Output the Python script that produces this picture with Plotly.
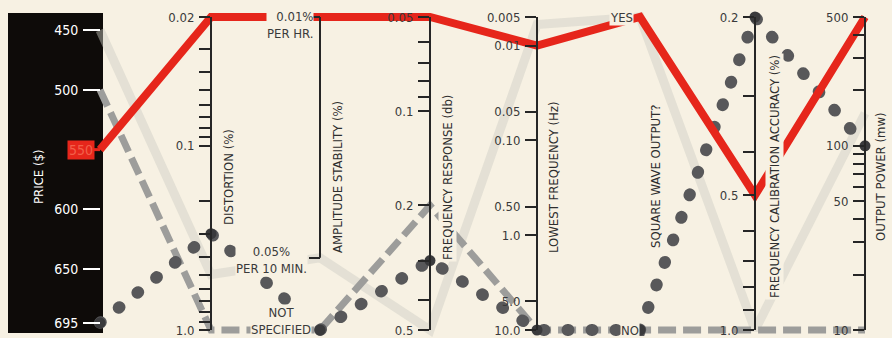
import math

import plotly.graph_objects as go

# ─── Data ─────────────────────────────────────────────────────────────────────

DIMENSIONS = [
    "PRICE ($)",
    "DISTORTION (%)",
    "AMPLITUDE STABILITY (%)",
    "FREQUENCY RESPONSE (db)",
    "LOWEST FREQUENCY (Hz)",
    "SQUARE WAVE OUTPUT?",
    "FREQUENCY CALIBRATION ACCURACY (%)",
    "OUTPUT POWER (mw)",
]

AMP_LEVELS = ["0.01% PER HR.", "0.05% PER 10 MIN.", "NOT SPECIFIED"]
SQUARE_LEVELS = ["NO", "YES"]

PRICE_TICKS = [450, 500, 550, 600, 650, 695]
DISTORTION_TICKS = [0.02, 0.1, 1.0]
DISTORTION_LABELS = ["0.02", "0.1", "1.0"]
DISTORTION_MINOR = [0.03, 0.04, 0.05, 0.06, 0.07, 0.08, 0.09,
                    0.2, 0.3, 0.4, 0.5, 0.6, 0.7, 0.8, 0.9]
FREQ_RESP_TICKS = [0.05, 0.1, 0.2, 0.5]
FREQ_RESP_LABELS = ["0.05", "0.1", "0.2", "0.5"]
FREQ_RESP_MINOR = [0.06, 0.07, 0.08, 0.09, 0.3, 0.4]
LOW_FREQ_TICKS = [0.005, 0.01, 0.05, 0.10, 0.50, 1.0, 5.0, 10.0]
LOW_FREQ_LABELS = ["0.005", "0.01", "0.05", "0.10", "0.50", "1.0", "5.0", "10.0"]
CAL_TICKS = [0.2, 0.5, 1.0]
CAL_LABELS = ["0.2", "0.5", "1.0"]
CAL_MINOR = [0.3, 0.4, 0.6, 0.7, 0.8, 0.9]
POWER_TICKS = [500, 100, 50, 10]
POWER_LABELS = ["500", "100", "50", "10"]
POWER_MINOR = [400, 300, 200, 90, 80, 70, 60, 40, 30, 20]

# one list per generator, in DIMENSIONS order
GEN_FAINT = [450, 0.5, "0.05% PER 10 MIN.", 0.5, 0.006, "YES", 1.0, 150]
GEN_DASHED = [500, 1.0, "NOT SPECIFIED", 0.2, 10.0, "NO", 1.0, 10]
GEN_DOTTED = [695, 0.3, "NOT SPECIFIED", 0.3, 10.0, "NO", 0.2, 100]
GEN_RED = [550, 0.02, "0.01% PER HR.", 0.05, 0.01, "YES", 0.5, 500]
GENERATORS = [GEN_FAINT, GEN_DASHED, GEN_DOTTED, GEN_RED]

# ─── Layout constants ─────────────────────────────────────────────────────────

W, H = 892, 338
BG = "#f7f1e3"
INK = "#262626"
TEXT = "#3a3a3a"
RED = "#e6261b"
FONT = "Liberation Sans Narrow, DejaVu Sans Condensed, Arial Narrow, sans-serif"

AXIS_X = [100, 211, 320, 430, 537, 640, 755, 865]      # pixel x of each axis
TITLE_X = [38, 228, 337, 447, 553, 655, 774, 880]
Y_DOMAIN = [1 - 330 / H, 1 - 17 / H]
SPAN = Y_DOMAIN[1] - Y_DOMAIN[0]
AMP_POS = {"0.01% PER HR.": 0, "0.05% PER 10 MIN.": 1, "NOT SPECIFIED": 1.3}
SQUARE_POS = {"NO": 0, "YES": 1}

# (kind, value at bottom, value at top)
SCALES = [
    ("linear", 701, 439),
    ("log", 1.0, 0.02),
    ("amp", 1.3, 0),
    ("log", 0.5, 0.05),
    ("log", 10.0, 0.005),
    ("square", 0, 1),
    ("log", 1.0, 0.2),
    ("log", 10, 500),
]


def numeric(i, v):
    kind = SCALES[i][0]
    if kind == "amp":
        return AMP_POS[v]
    if kind == "square":
        return SQUARE_POS[v]
    return v


def frac(i, v):
    """Position of value v on axis i, 0 = bottom, 1 = top."""
    kind, lo, hi = SCALES[i]
    v = numeric(i, v)
    if kind == "log":
        return (math.log10(v) - math.log10(lo)) / (math.log10(hi) - math.log10(lo))
    return (v - lo) / (hi - lo)


def axis_range(i):
    kind, lo, hi = SCALES[i]
    if kind == "log":
        return [math.log10(lo), math.log10(hi)]
    return [lo, hi]


def trace(values, **style):
    return go.Scatter(
        x=AXIS_X,
        y=[frac(i, v) for i, v in enumerate(values)],
        hoverinfo="skip",
        showlegend=False,
        **style,
    )


fig = go.Figure()

# each generator's value on every axis's own scale (keeps the axes alive)
for i in range(len(DIMENSIONS)):
    fig.add_trace(go.Scatter(
        x=[AXIS_X[i]] * len(GENERATORS),
        y=[numeric(i, g[i]) for g in GENERATORS],
        yaxis=f"y{i + 2}", mode="markers",
        marker=dict(opacity=0), hoverinfo="skip", showlegend=False,
    ))

fig.add_trace(trace(GEN_FAINT, mode="lines",
                    line=dict(color="rgba(205,205,196,0.45)", width=9)))
fig.add_trace(trace(GEN_DASHED, mode="lines",
                    line=dict(color="#9d9d9b", width=7, dash="18px,7px")))
fig.add_trace(trace(GEN_DOTTED, mode="lines+markers", uid="dotted",
                    line=dict(color="#58585a", width=12, dash="1px,23px"),
                    marker=dict(color="#3a3a3c", size=11)))
fig.add_trace(trace(GEN_RED, mode="lines",
                    line=dict(color=RED, width=8)))

# ─── Axes ─────────────────────────────────────────────────────────────────────

common = dict(
    anchor="free", side="left", automargin=False, domain=Y_DOMAIN,
    showgrid=False, zeroline=False,
    ticks="outside", ticklen=11, tickwidth=1.5, tickcolor=INK,
    showline=True, linecolor=INK, linewidth=2,
    tickfont=dict(family=FONT, size=13, color=TEXT),
    ticklabelstandoff=2,
)
minor = dict(ticks="outside", ticklen=11, tickwidth=1.5, tickcolor=INK)

axes = {}
axes["yaxis2"] = dict(common, range=axis_range(0), position=AXIS_X[0] / W,
                      showline=False, tickcolor="white", tickwidth=2, ticklen=17,
                      tickvals=PRICE_TICKS,
                      ticktext=[str(t) if t != GEN_RED[0] else "" for t in PRICE_TICKS],
                      tickfont=dict(family=FONT, size=14, color="white"))
axes["yaxis3"] = dict(common, type="log", range=axis_range(1), position=AXIS_X[1] / W,
                      tickvals=DISTORTION_TICKS, ticktext=DISTORTION_LABELS,
                      minor=dict(minor, tickvals=DISTORTION_MINOR))
axes["yaxis4"] = dict(common, range=axis_range(2), position=AXIS_X[2] / W,
                      showline=False, showticklabels=False,
                      tickvals=[AMP_POS[AMP_LEVELS[0]], AMP_POS[AMP_LEVELS[1]]])
axes["yaxis5"] = dict(common, type="log", range=axis_range(3), position=AXIS_X[3] / W,
                      tickvals=FREQ_RESP_TICKS, ticktext=FREQ_RESP_LABELS,
                      minor=dict(minor, tickvals=FREQ_RESP_MINOR))
axes["yaxis6"] = dict(common, type="log", range=axis_range(4), position=AXIS_X[4] / W,
                      tickvals=LOW_FREQ_TICKS, ticktext=LOW_FREQ_LABELS)
axes["yaxis7"] = dict(common, range=axis_range(5), position=AXIS_X[5] / W,
                      showline=False, ticks="", showticklabels=False)
axes["yaxis8"] = dict(common, type="log", range=axis_range(6), position=AXIS_X[6] / W,
                      tickvals=CAL_TICKS, ticktext=CAL_LABELS,
                      minor=dict(minor, tickvals=CAL_MINOR))
axes["yaxis9"] = dict(common, type="log", range=axis_range(7), position=AXIS_X[7] / W,
                      tickvals=POWER_TICKS, ticktext=POWER_LABELS,
                      minor=dict(minor, tickvals=POWER_MINOR))

# ─── Decorations ──────────────────────────────────────────────────────────────

shapes = [
    # black price panel
    dict(type="rect", xref="paper", yref="paper", layer="below",
         x0=8 / W, x1=103 / W, y0=1 - 333 / H, y1=1 - 13 / H,
         fillcolor="#0e0b09", line=dict(width=0)),
    # amplitude stability axis only spans the two specified levels
    dict(type="line", xref="paper", yref="y4",
         x0=AXIS_X[2] / W, x1=AXIS_X[2] / W,
         y0=AMP_POS[AMP_LEVELS[0]], y1=AMP_POS[AMP_LEVELS[1]],
         line=dict(color=INK, width=2)),
    # red marker on the price scale
    dict(type="line", xref="paper", yref="y2",
         x0=78 / W, x1=AXIS_X[0] / W, y0=GEN_RED[0], y1=GEN_RED[0],
         line=dict(color=RED, width=3)),
]

annotations = []
for i, name in enumerate(DIMENSIONS):
    is_price = i == 0
    annotations.append(dict(
        xref="paper", yref="paper", x=TITLE_X[i] / W, y=1 - 177 / H,
        xanchor="center", yanchor="middle",
        text=name, textangle=-90, showarrow=False,
        bgcolor=None if is_price else BG, borderpad=1,
        font=dict(family=FONT, size=13, color="white" if is_price else "#2e2e2e"),
    ))


def label(text, yref, y, x, yshift=0, align="right"):
    return dict(xref="paper", yref=yref, x=x / W, y=y, yshift=yshift, text=text,
                align=align, xanchor="right", showarrow=False,
                bgcolor=BG, borderpad=0,
                font=dict(family=FONT, size=13, color=TEXT))


annotations += [
    dict(xref="paper", yref="y2", x=67 / W, y=GEN_RED[0], text=str(GEN_RED[0]),
         showarrow=False, bgcolor=RED, borderpad=1,
         font=dict(family=FONT, size=14, color="#f2604a")),
    label("0.01%<br>PER HR.", "y4", AMP_POS[AMP_LEVELS[0]], 314, yshift=-8),
    label("0.05%<br>PER 10 MIN.", "y4", AMP_POS[AMP_LEVELS[1]], 308, yshift=-2,
          align="center"),
    label("NOT<br>SPECIFIED", "y4", AMP_POS[AMP_LEVELS[2]], 312, yshift=9,
          align="center"),
    label(SQUARE_LEVELS[1], "y7", SQUARE_POS[SQUARE_LEVELS[1]], 634),
    label(SQUARE_LEVELS[0], "y7", SQUARE_POS[SQUARE_LEVELS[0]], 640),
]

fig.update_layout(
    width=W, height=H,
    margin=dict(l=0, r=0, t=0, b=0),
    paper_bgcolor=BG, plot_bgcolor="rgba(0,0,0,0)",
    xaxis=dict(range=[0, W], visible=False, domain=[0, 1], automargin=False),
    # generator lines: full-height subplot so thick strokes at the ends aren't clipped
    yaxis=dict(range=[-Y_DOMAIN[0] / SPAN, (1 - Y_DOMAIN[0]) / SPAN],
               visible=False, domain=[0, 1], automargin=False),
    shapes=shapes,
    annotations=annotations,
    **axes,
)

# no page margin around the figure; round caps turn the dotted line into dots
POST = """
document.body.style.margin = '0';
var gd = document.getElementById('{plot_id}');
gd.querySelectorAll('.tracedotted path.js-line').forEach(function (p) {
    p.style.strokeLinecap = 'round';
});
"""

fig.write_html("out.html", post_script=POST, config={"displayModeBar": False})
